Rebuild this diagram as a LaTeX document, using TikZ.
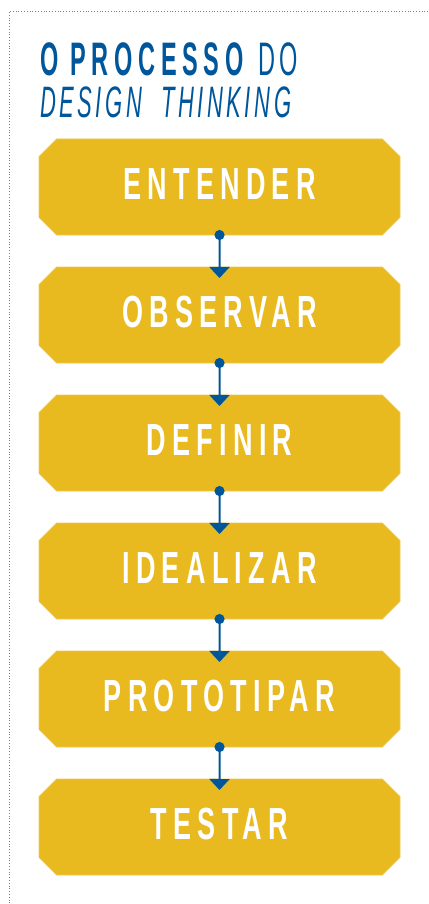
\documentclass[tikz,border=0pt]{standalone}
\usepackage{fontspec}
\setmainfont{Liberation Sans}
\newfontfamily\phasefont[FakeStretch=0.6,LetterSpace=14]{Liberation Sans}
\newfontfamily\headfont[FakeStretch=0.5,LetterSpace=12]{Liberation Sans}
\newfontfamily\subfont[FakeStretch=0.5,LetterSpace=8]{Liberation Sans}
\usetikzlibrary{
        arrows.meta,
        positioning,
        shapes.misc
    }
\definecolor{dtblue}{HTML}{00569A}
\definecolor{dtyellow}{HTML}{E8BA20}
\tikzset{>={Triangle[width=20pt,length=11pt]},node distance=32pt}
\tikzset{phase/.style={chamfered rectangle,chamfered rectangle xsep=14pt,
        fill=dtyellow,draw=dtyellow!80!white,line width=0.6pt,outer sep=0pt,
        minimum width=361pt,minimum height=96pt,inner sep=0pt,text depth=6pt,
        text=white,font=\phasefont\bfseries\fontsize{45}{45}\selectfont}}
\tikzset{step line/.style={{Circle[length=10pt]}->,dtblue,line width=2pt,
        shorten <=-5pt,shorten >=-11pt}}

\begin{document}
\begin{tikzpicture}[x=1pt,y=-1pt]
    \useasboundingbox (0,0) rectangle (428,904);
    \draw[dotted,gray,line width=0.8pt] (428,11) -- (9,11) -- (9,904);
    % titulo
    \node[anchor=base west,inner sep=0pt,text=dtblue] (title) at (40,76)
        {\headfont\fontsize{47}{47}\selectfont\textbf{O PROCESSO}\hspace{10pt}{\subfont DO}};
    \node[anchor=base west,inner sep=0pt,text=dtblue] (subtitle) at (40,118)
        {\subfont\itshape\fontsize{44}{44}\selectfont DESIGN\ \ THINKING};
    % etapas
    \node[phase] (entender) at (219.5,187) {ENTENDER};
    \node[phase] (observar) [below=of entender] {OBSERVAR};
    \node[phase] (definir) [below=of observar] {DEFINIR};
    \node[phase] (idealizar) [below=of definir] {IDEALIZAR};
    \node[phase] (prototipar) [below=of idealizar] {PROTOTIPAR};
    \node[phase] (testar) [below=of prototipar] {TESTAR};
    \path[step line]
        (entender) edge (observar)
        (observar) edge (definir)
        (definir) edge (idealizar)
        (idealizar) edge (prototipar)
        (prototipar) edge (testar);
\end{tikzpicture}
\end{document}
